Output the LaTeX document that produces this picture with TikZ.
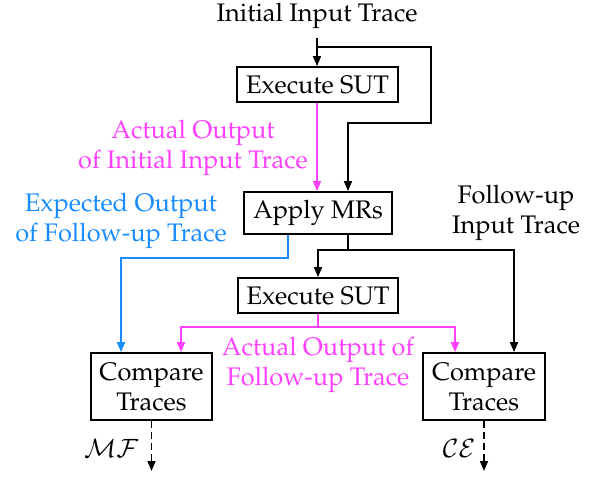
\documentclass[tikz,border=0pt]{standalone}
\usepackage[T1]{fontenc}
\usepackage{mathpazo}
\usetikzlibrary{arrows.meta}
\definecolor{pinkc}{RGB}{255,64,255}
\definecolor{bluec}{RGB}{25,140,255}
\begin{document}
\begin{tikzpicture}[x=0.5pt,y=-0.5pt,
  every node/.style={font=\fontsize{12.7}{15}\selectfont},
  box/.style={draw,line width=0.9pt,inner sep=0pt},
  conn/.style={line width=0.8pt,-{Triangle[length=5pt,width=4pt]}},
  dconn/.style={conn,dash pattern=on 3.5pt off 2pt}]
\useasboundingbox (0,0) rectangle (598,479);

\node (init) at (317,16) {Initial Input Trace};
\node[box,minimum width=80.5pt,minimum height=17.5pt] (exec1) at (317.5,84.5) {Execute SUT};
\node[box,minimum width=74pt,minimum height=21pt] (apply) at (318,213) {Apply MRs};
\node[box,minimum width=80pt,minimum height=17.5pt] (exec2) at (318,295.5) {Execute SUT};
\node[box,align=center,minimum width=60.5pt,minimum height=33.5pt] (cmpL) at (151.5,386.5) {Compare\\Traces};
\node[box,align=center,minimum width=61pt,minimum height=33.5pt] (cmpR) at (484,386.5) {Compare\\Traces};

\node[pinkc,align=center] (lab1) at (193,148) {Actual Output\\of Initial Input Trace};
\node[bluec,align=center] (lab2) at (121,220.5) {Expected Output\\of Follow-up Trace};
\node[align=center] (lab3) at (516,213) {Follow-up\\Input Trace};
\node[pinkc,align=center] (lab4) at (318,365) {Actual Output of\\Follow-up Trace};
\node[anchor=east,inner sep=0pt] (mf) at (139,448) {$\mathcal{MF}$};
\node[anchor=east,inner sep=0pt] (ce) at (476,448) {$\mathcal{CE}$};

\coordinate (s0) at (317,38);
\coordinate (j0) at (317,47);
\coordinate (eL) at (151.5,471);
\coordinate (eR) at (484,471);

\draw[conn] (s0) -- (s0 |- exec1.north);
\draw[conn] (j0) -- (431,47) -- (431,123) -- (348,123) -- (348,0 |- apply.north);
\draw[conn,pinkc] (317,0 |- exec1.south) -- (317,0 |- apply.north);
\draw[conn,bluec] (288,0 |- apply.south) -- (288,258) -- (121,258) -- (121,0 |- cmpL.north);
\draw[conn] (348,0 |- apply.south) -- (348,250) -- (318,250) -- (exec2.north);
\draw[conn] (348,250) -- (514,250) -- (514,0 |- cmpR.north);
\draw[conn,pinkc] (exec2.south) -- (318,327) -- (181,327) -- (181,0 |- cmpL.north);
\draw[conn,pinkc] (318,327) -- (455,327) -- (455,0 |- cmpR.north);
\draw[dconn] (cmpL.south) -- (eL);
\draw[dconn] (cmpR.south) -- (eR);
\end{tikzpicture}
\end{document}
